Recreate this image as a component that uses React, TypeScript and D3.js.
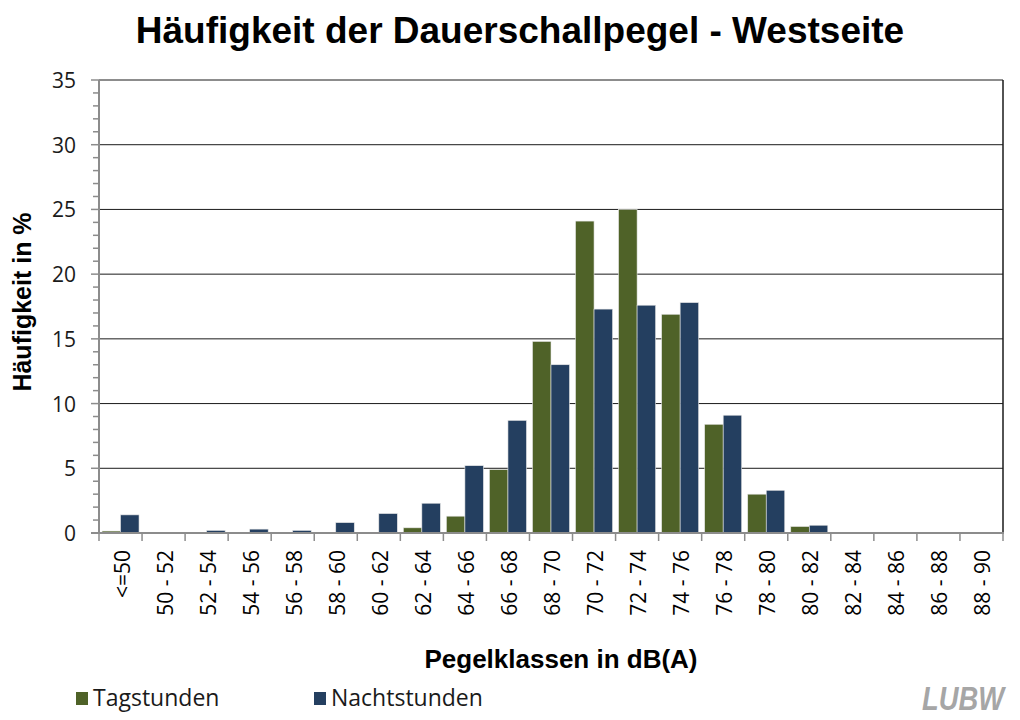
import * as d3 from "d3";

const categories = [
  "<=50", "50 - 52", "52 - 54", "54 - 56", "56 - 58", "58 - 60", "60 - 62",
  "62 - 64", "64 - 66", "66 - 68", "68 - 70", "70 - 72", "72 - 74", "74 - 76",
  "76 - 78", "78 - 80", "80 - 82", "82 - 84", "84 - 86", "86 - 88", "88 - 90",
];
const tagstunden = [0.15, 0, 0, 0, 0, 0, 0, 0.4, 1.3, 4.9, 14.8, 24.1, 25.0, 16.9, 8.4, 3.0, 0.5, 0, 0, 0, 0];
const nachtstunden = [1.4, 0, 0.2, 0.3, 0.2, 0.8, 1.5, 2.3, 5.2, 8.7, 13.0, 17.3, 17.6, 17.8, 9.1, 3.3, 0.6, 0, 0, 0, 0];
const yTicks = [0, 5, 10, 15, 20, 25, 30, 35];
const seriesNames = ["Tagstunden", "Nachtstunden"];
const seriesColors = ["#4f6228", "#243f60"];

export default function App() {
  const width = 1020;
  const height = 720;
  const plot = { left: 99, right: 1003, top: 80, bottom: 533 };
  const x = d3
    .scaleBand()
    .domain(categories)
    .range([plot.left, plot.right])
    .paddingInner(0.14)
    .paddingOuter(0.07);
  const inner = d3.scaleBand().domain(seriesNames).range([0, x.bandwidth()]);
  const y = d3.scaleLinear().domain([0, 35]).range([plot.bottom, plot.top]);
  const step = (plot.right - plot.left) / categories.length;
  const minor = d3.range(0, 36, 1);
  const series = [tagstunden, nachtstunden];
  const tickFont = "'Open Sans', 'Noto Sans', sans-serif";
  const arial = "'Liberation Sans', Arial, sans-serif";

  return (
    <svg
      width={width}
      height={height}
      viewBox={`0 0 ${width} ${height}`}
      style={{ position: "absolute", left: 0, top: 0, background: "#fff" }}
    >
      <text x={520} y={43} textAnchor="middle" fontFamily={arial} fontWeight="bold" fontSize={37}>
        Häufigkeit der Dauerschallpegel - Westseite
      </text>

      {yTicks.slice(1).map((tick) => (
        <line
          key={tick}
          x1={plot.left}
          x2={plot.right}
          y1={y(tick)}
          y2={y(tick)}
          stroke="#1a1a1a"
          strokeWidth={1}
        />
      ))}
      <line x1={plot.right} x2={plot.right} y1={plot.top} y2={plot.bottom} stroke="#1a1a1a" strokeWidth={1.5} />

      {series.map((values, si) =>
        values.map((v, i) => {
          const bx = (x(categories[i]) ?? 0) + (inner(seriesNames[si]) ?? 0);
          return (
            <rect
              key={`${si}-${i}`}
              x={bx}
              y={y(v)}
              width={inner.bandwidth()}
              height={plot.bottom - y(v)}
              fill={seriesColors[si]}
              stroke="#e6e6e6"
              strokeWidth={0.6}
            />
          );
        })
      )}

      {/* axes */}
      <line x1={plot.left} x2={plot.left} y1={plot.top} y2={plot.bottom} stroke="#8c8c8c" strokeWidth={2} />
      <line x1={plot.left - 8} x2={plot.right + 1} y1={plot.bottom} y2={plot.bottom} stroke="#8c8c8c" strokeWidth={2} />
      {minor.map((m) => (
        <line
          key={m}
          x1={m % 5 === 0 ? plot.left - 8 : plot.left - 6}
          x2={plot.left}
          y1={y(m)}
          y2={y(m)}
          stroke="#8c8c8c"
          strokeWidth={1.5}
        />
      ))}
      {yTicks.map((tick) => (
        <text
          key={tick}
          x={76}
          y={y(tick) + 8}
          textAnchor="end"
          fontFamily={tickFont}
          fontSize={21}
          fill="#1a1a1a"
        >
          {tick}
        </text>
      ))}
      {d3.range(categories.length + 1).map((i) => (
        <line
          key={i}
          x1={plot.left + i * step}
          x2={plot.left + i * step}
          y1={plot.bottom}
          y2={plot.bottom + 8}
          stroke="#8c8c8c"
          strokeWidth={1.5}
        />
      ))}
      {categories.map((c) => {
        const cx = (x(c) ?? 0) + x.bandwidth() / 2 + 9;
        return (
          <text
            key={c}
            transform={`translate(${cx}, ${plot.bottom + 17}) rotate(-90)`}
            textAnchor="end"
            fontFamily={tickFont}
            fontSize={21}
            fill="#000"
          >
            {c}
          </text>
        );
      })}

      <text
        transform="translate(31, 302) rotate(-90)"
        textAnchor="middle"
        fontFamily={arial}
        fontWeight="bold"
        fontSize={25}
      >
        Häufigkeit in %
      </text>
      <text x={561} y={668} textAnchor="middle" fontFamily={arial} fontWeight="bold" fontSize={26}>
        Pegelklassen in dB(A)
      </text>

      {seriesNames.map((name, i) => {
        const lx = i === 0 ? 76 : 314;
        return (
          <g key={name}>
            <rect x={lx} y={692} width={12} height={13} fill={seriesColors[i]} />
            <text x={lx + 17} y={706} fontFamily={tickFont} fontSize={23} fill="#1a1a1a">
              {name}
            </text>
          </g>
        );
      })}

      <text
        x={922}
        y={710}
        fontFamily={arial}
        fontWeight="bold"
        fontStyle="italic"
        fontSize={33}
        fill="#a6a6a6"
        textLength={82}
        lengthAdjust="spacingAndGlyphs"
      >
        LUBW
      </text>
    </svg>
  );
}
